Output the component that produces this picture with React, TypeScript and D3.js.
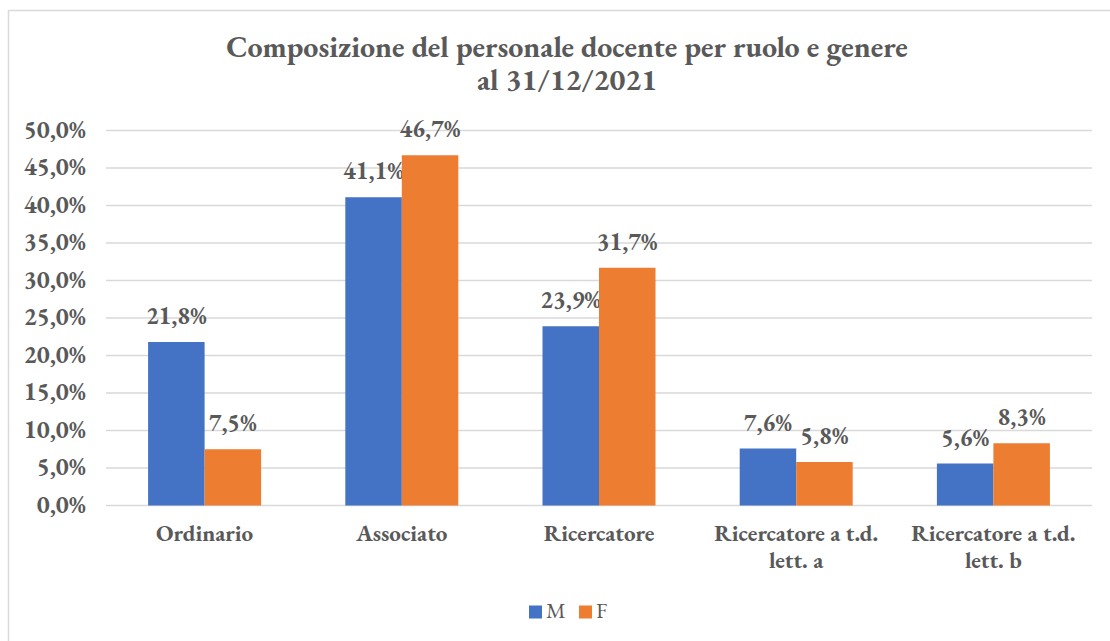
import React from "react";
import * as d3 from "d3";

const categories: string[][] = [
  ["Ordinario"],
  ["Associato"],
  ["Ricercatore"],
  ["Ricercatore a t.d.", "lett. a"],
  ["Ricercatore a t.d.", "lett. b"],
];
const seriesNames = ["M", "F"];
const valuesM = [21.8, 41.1, 23.9, 7.6, 5.6];
const valuesF = [7.5, 46.7, 31.7, 5.8, 8.3];
const yTicks = [0, 5, 10, 15, 20, 25, 30, 35, 40, 45, 50];
const titleLines = ["Composizione del personale docente per ruolo e genere", "al 31/12/2021"];

const colors = ["#4472C4", "#ED7D31"];
const textColor = "#595959";
const font = "EB Garamond, Liberation Serif, serif";

const fmt = (v: number) => v.toFixed(1).replace(".", ",") + "%";

export default function App() {
  const W = 1110, H = 641;
  const left = 106, right = 1092, top = 130.5, bottom = 505.5;
  const x = d3.scaleBand<number>().domain(categories.map((_, i) => i)).range([left, right]);
  const y = d3.scaleLinear().domain([0, 50]).range([bottom, top]);
  const barW = 56.5;
  const xs = d3.scaleBand<number>().domain([0, 1]).range([0, barW * 2]);
  const series = [valuesM, valuesF];

  return (
    <svg width={W} height={H} style={{ position: "absolute", left: 0, top: 0, background: "#fff" }} fontFamily={font}>
      <rect x={0} y={0} width={W} height={H} fill="#fff" />
      <line x1={8.5} y1={10} x2={8.5} y2={H} stroke="#D9D9D9" strokeWidth={1.5} />
      <line x1={8} y1={10.5} x2={W} y2={10.5} stroke="#D9D9D9" strokeWidth={1.5} />
      {titleLines.map((t, i) => (
        <text key={i} x={567} y={56.5 + i * 33} textAnchor="middle" fontSize={30} fontWeight="bold" fill={textColor}>{t}</text>
      ))}
      {yTicks.map((t) => (
        <g key={t}>
          <line x1={left} x2={right} y1={y(t)} y2={y(t)} stroke="#D9D9D9" strokeWidth={1.5} />
          <text x={86} y={y(t) + 7} textAnchor="end" fontSize={24.5} fontWeight="bold" fill={textColor}>{fmt(t)}</text>
        </g>
      ))}
      {categories.map((c, i) => {
        const cx = (x(i) as number) + x.bandwidth() / 2;
        const g0 = cx - barW;
        return (
          <g key={i}>
            {series.map((vals, s) => {
              const bx = g0 + (xs(s) as number);
              return (
                <g key={s}>
                  <rect x={bx} y={y(vals[i])} width={xs.bandwidth()} height={bottom - y(vals[i])} fill={colors[s]} />
                  <text x={bx + xs.bandwidth() / 2} y={y(vals[i]) - 18} textAnchor="middle" fontSize={24} fontWeight="bold" fill={textColor}>{fmt(vals[i])}</text>
                </g>
              );
            })}
            {c.map((line, li) => (
              <text key={li} x={cx} y={541 + li * 27} textAnchor="middle" fontSize={23} fontWeight="bold" fill={textColor}>{line}</text>
            ))}
          </g>
        );
      })}
      {seriesNames.map((n, s) => (
        <g key={n}>
          <rect x={529 + s * 50} y={605.5} width={13} height={13} fill={colors[s]} />
          <text x={546 + s * 50} y={618} fontSize={22} fill={textColor}>{n}</text>
        </g>
      ))}
    </svg>
  );
}
